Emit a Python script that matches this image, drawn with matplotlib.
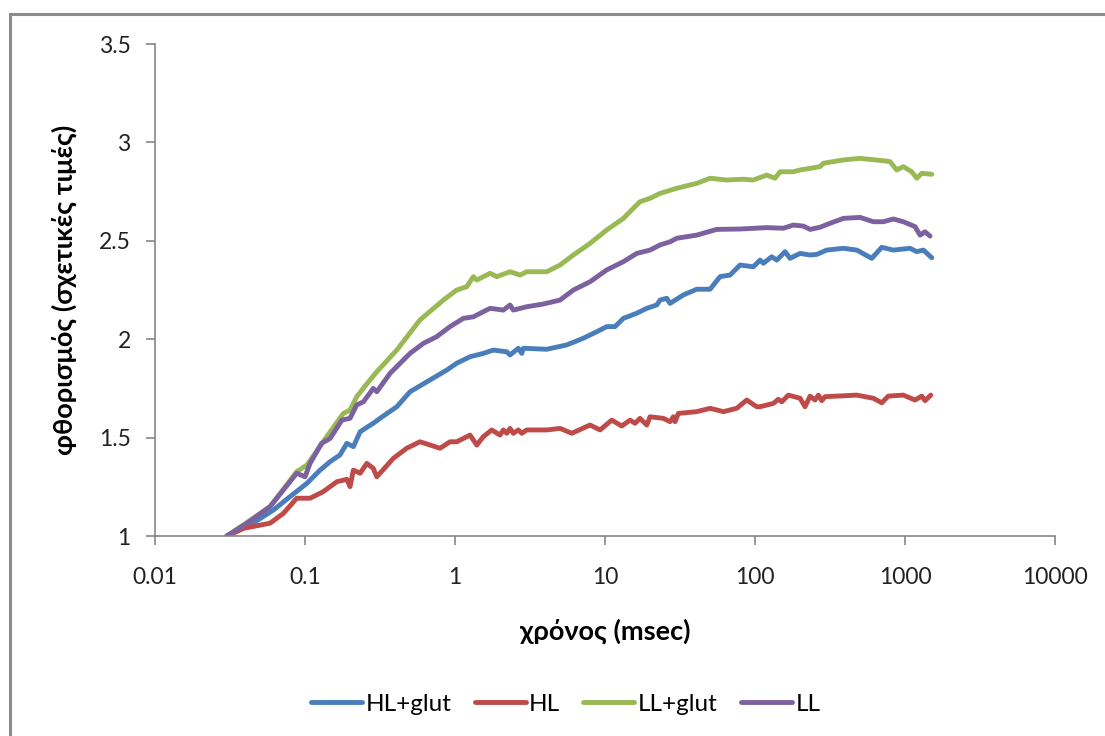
import matplotlib
matplotlib.use("Agg")
import matplotlib.pyplot as plt
from matplotlib import ticker
from matplotlib.patches import Rectangle

plt.rcParams["font.family"] = ["Lato", "DejaVu Sans"]

# time (msec) and fluorescence (relative values)
hl_glut_t = [0.0301, 0.043, 0.0615, 0.0794, 0.103, 0.126, 0.147, 0.171, 0.190, 0.210,
             0.233, 0.285, 0.316, 0.409, 0.501, 0.681, 0.88, 1.026, 1.259, 1.544,
             1.80, 2.212, 2.326, 2.642, 2.785, 2.853, 4.087, 5.556, 7.166, 8.80,
             10.26, 11.66, 13.25, 16.27, 18.97, 22.12, 23.26, 25.78, 27.12, 33.27,
             40.87, 50.12, 58.43, 68.13, 79.43, 97.4, 108, 113.6, 129.2, 139.6,
             158.5, 171.1, 199.5, 232.6, 257.8, 300.6, 388, 476.4, 599.8, 699.5,
             835.6, 1080, 1197, 1325, 1507]
hl_glut_y = [1.00, 1.056, 1.132, 1.200, 1.268, 1.335, 1.378, 1.412, 1.471, 1.454,
             1.530, 1.573, 1.598, 1.657, 1.733, 1.793, 1.843, 1.878, 1.911, 1.928,
             1.945, 1.936, 1.920, 1.954, 1.928, 1.954, 1.949, 1.971, 2.005, 2.038,
             2.064, 2.064, 2.106, 2.132, 2.157, 2.174, 2.199, 2.208, 2.182, 2.225,
             2.254, 2.254, 2.318, 2.326, 2.377, 2.368, 2.402, 2.386, 2.419, 2.402,
             2.445, 2.411, 2.436, 2.428, 2.431, 2.453, 2.462, 2.453, 2.411, 2.467,
             2.453, 2.462, 2.445, 2.453, 2.414]

hl_t = [0.0301, 0.0388, 0.0584, 0.0717, 0.088, 0.108, 0.132, 0.163, 0.190, 0.1995,
        0.210, 0.233, 0.258, 0.285, 0.301, 0.388, 0.476, 0.584, 0.794, 0.926,
        1.026, 1.259, 1.396, 1.544, 1.757, 1.995, 2.099, 2.212, 2.326, 2.447,
        2.642, 2.785, 3.006, 4.087, 5.012, 5.998, 7.943, 9.261, 11.08, 12.92,
        14.68, 15.85, 17.11, 18.97, 19.95, 24.47, 27.12, 28.53, 29.29, 30.82,
        40.87, 50.12, 61.5, 75.5, 88.0, 102.6, 108, 132.5, 143, 150.7,
        166.7, 199.5, 215.4, 232.6, 251.2, 264.2, 278.5, 292.9, 476.4, 615,
        699.5, 774, 974, 1166, 1292, 1359, 1484]
hl_y = [1.00, 1.039, 1.065, 1.115, 1.192, 1.192, 1.225, 1.276, 1.288, 1.251,
        1.335, 1.319, 1.369, 1.344, 1.301, 1.395, 1.446, 1.479, 1.446, 1.479,
        1.479, 1.513, 1.462, 1.505, 1.539, 1.513, 1.539, 1.522, 1.547, 1.522,
        1.539, 1.522, 1.539, 1.539, 1.547, 1.522, 1.564, 1.539, 1.589, 1.559,
        1.589, 1.573, 1.598, 1.564, 1.606, 1.598, 1.581, 1.606, 1.581, 1.623,
        1.632, 1.649, 1.632, 1.649, 1.691, 1.657, 1.657, 1.674, 1.695, 1.682,
        1.716, 1.700, 1.657, 1.711, 1.691, 1.716, 1.688, 1.708, 1.716, 1.700,
        1.677, 1.711, 1.716, 1.691, 1.711, 1.688, 1.716]

ll_glut_t = [0.0301, 0.0388, 0.0584, 0.088, 0.103, 0.132, 0.180, 0.1995, 0.221, 0.271,
             0.301, 0.409, 0.584, 0.836, 1.026, 1.197, 1.325, 1.396, 1.711, 1.897,
             2.326, 2.712, 3.006, 4.087, 5.012, 6.15, 7.943, 10.26, 13.25, 15.07,
             17.11, 19.95, 23.26, 30.06, 40.87, 50.12, 64.7, 83.56, 97.4, 119.7,
             135.9, 146.8, 180, 199.5, 232.6, 271.2, 285.3, 388, 501.2, 716.6,
             794.3, 880, 974, 1108, 1197, 1292, 1507]
ll_glut_y = [1.00, 1.056, 1.149, 1.327, 1.361, 1.479, 1.623, 1.640, 1.708, 1.793,
             1.835, 1.945, 2.098, 2.199, 2.250, 2.267, 2.318, 2.301, 2.335, 2.318,
             2.343, 2.326, 2.343, 2.343, 2.377, 2.428, 2.487, 2.555, 2.614, 2.657,
             2.699, 2.716, 2.741, 2.767, 2.792, 2.818, 2.809, 2.813, 2.809, 2.834,
             2.818, 2.851, 2.851, 2.860, 2.868, 2.877, 2.894, 2.911, 2.919, 2.907,
             2.902, 2.860, 2.877, 2.851, 2.818, 2.843, 2.838]

ll_t = [0.0301, 0.0409, 0.0584, 0.0717, 0.088, 0.100, 0.108, 0.129, 0.147, 0.176,
        0.1995, 0.221, 0.245, 0.285, 0.301, 0.369, 0.501, 0.615, 0.755, 0.926,
        1.136, 1.325, 1.711, 2.099, 2.326, 2.447, 3.006, 3.88, 5.012, 6.15,
        7.943, 10.26, 13.25, 16.27, 19.95, 23.26, 27.12, 30.06, 40.87, 55.56,
        79.43, 119.7, 154.4, 180, 209.9, 232.6, 271.2, 316.2, 388, 501.2,
        615, 716.6, 835.6, 974, 1166, 1259, 1359, 1468]
ll_y = [1.00, 1.065, 1.149, 1.234, 1.319, 1.301, 1.369, 1.471, 1.496, 1.589,
        1.598, 1.666, 1.682, 1.750, 1.733, 1.827, 1.928, 1.979, 2.013, 2.064,
        2.106, 2.114, 2.157, 2.148, 2.174, 2.148, 2.165, 2.179, 2.199, 2.250,
        2.292, 2.352, 2.394, 2.436, 2.453, 2.479, 2.495, 2.513, 2.529, 2.558,
        2.560, 2.567, 2.564, 2.580, 2.575, 2.558, 2.569, 2.589, 2.614, 2.619,
        2.597, 2.597, 2.611, 2.597, 2.572, 2.529, 2.546, 2.524]

series = [
    ("HL+glut", hl_glut_t, hl_glut_y, "#4A7EBB"),
    ("HL", hl_t, hl_y, "#BE4B48"),
    ("LL+glut", ll_glut_t, ll_glut_y, "#98B954"),
    ("LL", ll_t, ll_y, "#7D60A0"),
]

x_ticks = [0.01, 0.1, 1, 10, 100, 1000, 10000]
y_ticks = [1, 1.5, 2, 2.5, 3, 3.5]

fig = plt.figure(figsize=(11.05, 7.36), dpi=100)
ax = fig.add_axes([0.1403, 0.2717, 0.8145, 0.6685])

for name, t, y, color in series:
    ax.plot(t, y, color=color, lw=3.5, label=name,
            solid_joinstyle="round", solid_capstyle="round")

ax.set_xscale("log")
ax.set_xlim(0.01, 10000)
ax.set_ylim(1, 3.5)
ax.set_xticks(x_ticks)
ax.set_yticks(y_ticks)
ax.xaxis.set_minor_locator(ticker.NullLocator())
fmt = ticker.FuncFormatter(lambda v, pos: "%g" % v)
ax.xaxis.set_major_formatter(fmt)
ax.yaxis.set_major_formatter(fmt)

for side in ["top", "right"]:
    ax.spines[side].set_visible(False)
for side in ["left", "bottom"]:
    ax.spines[side].set_color("#868686")
    ax.spines[side].set_linewidth(1.2)

ax.tick_params(axis="both", colors="#868686", labelcolor="#222222",
               labelsize=16.5, length=6.5, width=1.2)
ax.tick_params(axis="x", pad=16)
ax.tick_params(axis="y", pad=11)

ax.set_xlabel("χρόνος (msec)", fontsize=19.5, fontweight="bold", labelpad=22)
ax.set_ylabel("φθορισμός (σχετικές τιμές)", fontsize=19.5, fontweight="bold",
              labelpad=16)

fig.legend(loc="center", bbox_to_anchor=(0.512, 0.043), ncol=4, frameon=False,
           fontsize=17.5, handlelength=2.1, handletextpad=0.15, columnspacing=0.95)

fig.patches.append(Rectangle((0.009, -0.1), 1.2, 1.081, transform=fig.transFigure,
                             fill=False, edgecolor="#8C8C8C", linewidth=2.2))

fig.savefig("out.png", dpi=100)
